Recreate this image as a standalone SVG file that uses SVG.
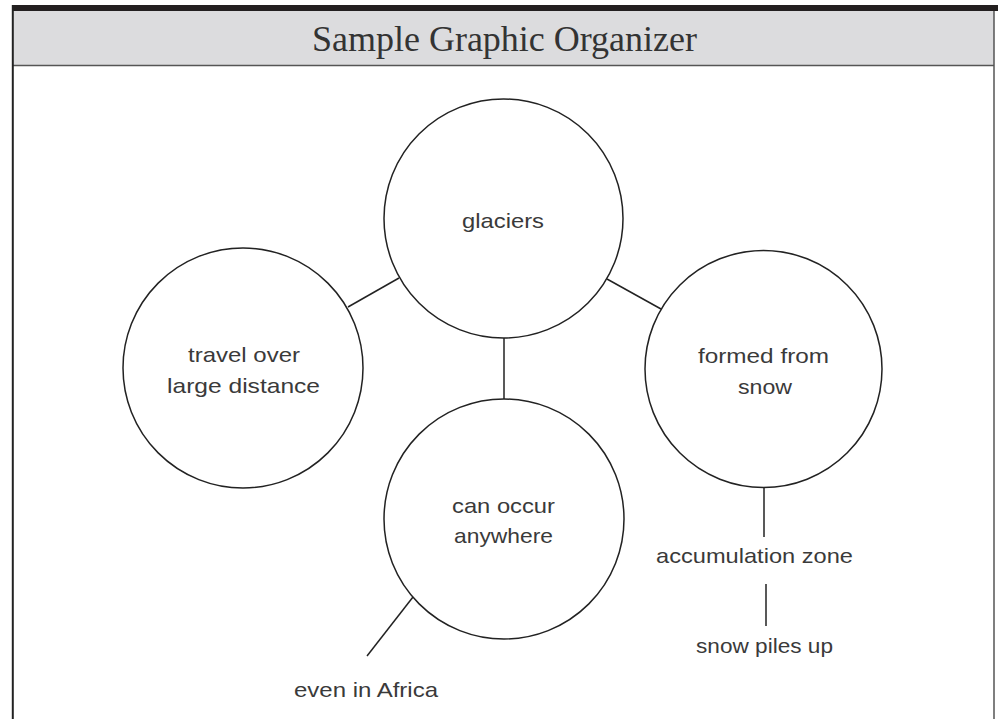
<svg xmlns="http://www.w3.org/2000/svg" width="998" height="719" viewBox="0 0 998 719">
  <style>
    .node circle { fill: #fff; stroke: #222; stroke-width: 1.5; }
    .lbl { font-family: "Liberation Sans", Arial, sans-serif; font-size: 21px; fill: #3a3a3a; text-anchor: middle; }
    .conn line { stroke: #222; stroke-width: 1.5; }
  </style>
  <rect x="0" y="0" width="998" height="719" fill="#fff"/>
  <g id="frame">
    <rect x="12" y="11" width="982" height="54" fill="#dcdcde"/>
    <rect x="12" y="5" width="986" height="6" fill="#231f20"/>
    <line x1="12" y1="65.5" x2="994" y2="65.5" stroke="#555" stroke-width="1.5"/>
    <line x1="12.8" y1="5" x2="12.8" y2="719" stroke="#222" stroke-width="2"/>
    <line x1="994" y1="11" x2="994" y2="719" stroke="#555" stroke-width="1.5"/>
    <text x="504.5" y="51" font-family="Liberation Serif, serif" font-size="35" fill="#333" text-anchor="middle" textLength="385" lengthAdjust="spacingAndGlyphs">Sample Graphic Organizer</text>
  </g>
  <g id="connectors" class="conn">
    <line x1="504" y1="338" x2="504" y2="399"/>
    <line x1="399" y1="278" x2="348" y2="307"/>
    <line x1="607" y1="279" x2="661" y2="309"/>
    <line x1="764" y1="488" x2="764" y2="537"/>
    <line x1="766" y1="584" x2="766" y2="626"/>
    <line x1="413" y1="597" x2="367" y2="656"/>
  </g>
  <g id="glaciers" class="node">
    <circle cx="503.5" cy="218.5" r="119.5"/>
    <text class="lbl" x="503" y="228" textLength="82" lengthAdjust="spacingAndGlyphs">glaciers</text>
  </g>
  <g id="travel" class="node">
    <circle cx="243" cy="368" r="120"/>
    <text class="lbl" x="244" y="362" textLength="112" lengthAdjust="spacingAndGlyphs">travel over</text>
    <text class="lbl" x="243.5" y="393" textLength="153" lengthAdjust="spacingAndGlyphs">large distance</text>
  </g>
  <g id="formed" class="node">
    <circle cx="763.5" cy="369" r="118.5"/>
    <text class="lbl" x="763.5" y="363" textLength="131" lengthAdjust="spacingAndGlyphs">formed from</text>
    <text class="lbl" x="765" y="394" textLength="54" lengthAdjust="spacingAndGlyphs">snow</text>
  </g>
  <g id="anywhere" class="node">
    <circle cx="504" cy="519" r="120"/>
    <text class="lbl" x="503.5" y="513" textLength="103" lengthAdjust="spacingAndGlyphs">can occur</text>
    <text class="lbl" x="503.5" y="543" textLength="99" lengthAdjust="spacingAndGlyphs">anywhere</text>
  </g>
  <g id="accumulation">
    <text class="lbl" x="754.5" y="563" textLength="197" lengthAdjust="spacingAndGlyphs">accumulation zone</text>
  </g>
  <g id="piles">
    <text class="lbl" x="764.5" y="653" textLength="137" lengthAdjust="spacingAndGlyphs">snow piles up</text>
  </g>
  <g id="africa">
    <text class="lbl" x="366" y="697" textLength="144" lengthAdjust="spacingAndGlyphs">even in Africa</text>
  </g>
</svg>
